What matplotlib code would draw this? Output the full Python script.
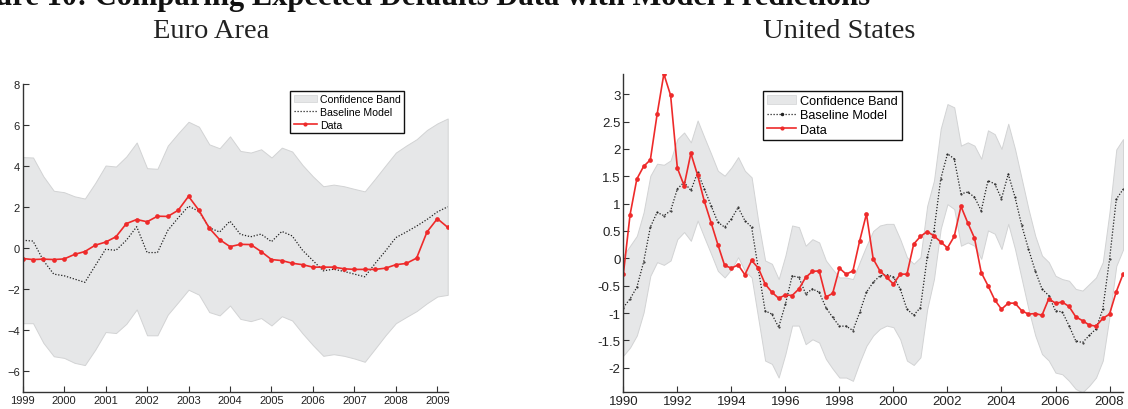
import numpy as np
import matplotlib
matplotlib.use("Agg")
import matplotlib.pyplot as plt
from matplotlib.patches import Patch
from matplotlib.lines import Line2D

plt.rcParams['font.family'] = ['Liberation Sans', 'DejaVu Sans']

# quarterly dates
euro_t = np.arange(1999.0, 2009.26, 0.25)
us_t = np.arange(1990.0, 2008.51, 0.25)

# Euro area
euro_data = [-0.50, -0.55, -0.53, -0.55, -0.52, -0.30, -0.16, 0.15,
             0.30, 0.56, 1.20, 1.40, 1.29, 1.56, 1.55, 1.85,
             2.53, 1.85, 0.98, 0.42, 0.08, 0.19, 0.18, -0.16,
             -0.55, -0.60, -0.73, -0.80, -0.92, -0.92, -0.92, -1.00,
             -1.03, -1.03, -1.03, -0.97, -0.80, -0.74, -0.48, 0.79,
             1.44, 1.02]
euro_model = [0.39, 0.35, -0.60, -1.26, -1.34, -1.50, -1.66, -0.85,
              -0.05, -0.10, 0.39, 1.05, -0.21, -0.21, 0.87, 1.48,
              2.05, 1.80, 1.00, 0.79, 1.32, 0.68, 0.56, 0.69,
              0.32, 0.82, 0.60, -0.10, -0.60, -1.10, -1.02, -1.13,
              -1.26, -1.39, -0.74, -0.13, 0.52, 0.79, 1.08, 1.40,
              1.77, 2.02]
euro_upper = [4.44, 4.42, 3.50, 2.80, 2.73, 2.53, 2.42, 3.18,
              4.03, 3.98, 4.47, 5.15, 3.90, 3.87, 5.00, 5.60,
              6.16, 5.92, 5.06, 4.87, 5.45, 4.74, 4.66, 4.82,
              4.42, 4.90, 4.71, 4.05, 3.50, 3.02, 3.10, 3.02,
              2.89, 2.77, 3.39, 4.03, 4.66, 5.00, 5.31, 5.76,
              6.08, 6.32]
euro_lower = [-3.65, -3.65, -4.61, -5.26, -5.34, -5.58, -5.69, -4.94,
              -4.08, -4.13, -3.68, -2.98, -4.24, -4.24, -3.23, -2.63,
              -2.02, -2.26, -3.11, -3.27, -2.79, -3.44, -3.55, -3.40,
              -3.76, -3.31, -3.52, -4.15, -4.72, -5.24, -5.16, -5.24,
              -5.37, -5.53, -4.89, -4.24, -3.65, -3.35, -3.06, -2.68,
              -2.35, -2.27]

# United States
us_data = [-0.29, 0.80, 1.45, 1.68, 1.80, 2.63, 3.37, 2.98,
           1.65, 1.33, 1.92, 1.52, 1.04, 0.65, 0.25, -0.13,
           -0.18, -0.12, -0.30, -0.04, -0.18, -0.47, -0.62, -0.73,
           -0.67, -0.68, -0.56, -0.35, -0.24, -0.23, -0.71, -0.64,
           -0.18, -0.29, -0.23, 0.32, 0.81, -0.01, -0.23, -0.35,
           -0.47, -0.29, -0.29, 0.26, 0.40, 0.49, 0.41, 0.30,
           0.19, 0.40, 0.95, 0.65, 0.37, -0.26, -0.50, -0.76,
           -0.93, -0.82, -0.82, -0.96, -1.02, -1.01, -1.04, -0.74,
           -0.82, -0.80, -0.88, -1.07, -1.14, -1.22, -1.24, -1.10,
           -1.02, -0.61, -0.29]
us_model = [-0.90, -0.74, -0.53, -0.07, 0.57, 0.84, 0.78, 0.87,
            1.27, 1.39, 1.24, 1.57, 1.27, 0.96, 0.66, 0.57,
            0.72, 0.93, 0.69, 0.57, -0.20, -0.96, -1.02, -1.26,
            -0.84, -0.32, -0.35, -0.65, -0.56, -0.62, -0.90, -1.08,
            -1.24, -1.24, -1.32, -0.99, -0.62, -0.44, -0.32, -0.30,
            -0.34, -0.56, -0.93, -1.04, -0.90, 0.02, 0.50, 1.45,
            1.91, 1.82, 1.18, 1.21, 1.12, 0.87, 1.42, 1.36,
            1.09, 1.54, 1.12, 0.60, 0.17, -0.23, -0.56, -0.68,
            -0.96, -0.98, -1.23, -1.51, -1.54, -1.41, -1.29, -0.93,
            -0.02, 1.08, 1.26]
us_upper = [0.05, 0.23, 0.41, 0.84, 1.51, 1.73, 1.71, 1.79,
            2.18, 2.30, 2.12, 2.52, 2.21, 1.91, 1.60, 1.51,
            1.66, 1.85, 1.60, 1.48, 0.66, -0.04, -0.10, -0.38,
            0.05, 0.60, 0.57, 0.23, 0.35, 0.29, -0.04, -0.20,
            -0.35, -0.35, -0.38, -0.07, 0.23, 0.50, 0.60, 0.63,
            0.63, 0.35, 0.02, -0.10, 0.02, 0.96, 1.42, 2.37,
            2.82, 2.76, 2.06, 2.12, 2.06, 1.82, 2.34, 2.27,
            2.00, 2.46, 2.00, 1.45, 0.90, 0.41, 0.05, -0.07,
            -0.32, -0.38, -0.41, -0.56, -0.59, -0.47, -0.35, -0.07,
            0.85, 1.99, 2.18]
us_lower = [-1.78, -1.63, -1.41, -0.99, -0.32, -0.07, -0.12, -0.04,
            0.35, 0.48, 0.32, 0.69, 0.38, 0.08, -0.23, -0.35,
            -0.20, 0.02, -0.23, -0.35, -1.11, -1.87, -1.93, -2.18,
            -1.75, -1.23, -1.23, -1.57, -1.48, -1.54, -1.84, -2.02,
            -2.18, -2.18, -2.24, -1.90, -1.60, -1.41, -1.29, -1.23,
            -1.26, -1.48, -1.87, -1.95, -1.81, -0.93, -0.38, 0.54,
            0.99, 0.90, 0.23, 0.29, 0.23, -0.01, 0.51, 0.45,
            0.17, 0.63, 0.17, -0.38, -0.93, -1.41, -1.75, -1.87,
            -2.09, -2.12, -2.24, -2.39, -2.45, -2.33, -2.18, -1.87,
            -1.06, -0.14, 0.16]

BAND = '#e6e7e8'
BAND_EDGE = '#d2d3d4'
RED = '#ee2a2a'
DOT = (0, (1, 1.4))


def draw_panel(ax, t, lower, upper, model, data, fs, model_marker):
    ax.fill_between(t, lower, upper, facecolor=BAND, edgecolor=BAND_EDGE, linewidth=0.7)
    ax.plot(t, model, color='#222222', linestyle=DOT, linewidth=0.9,
            marker=model_marker, markersize=1)
    ax.plot(t, data, color=RED, linewidth=1.2, marker='o', markersize=3.4,
            markeredgewidth=0)
    for s in ['top', 'right']:
        ax.spines[s].set_visible(False)
    for s in ['left', 'bottom']:
        ax.spines[s].set_linewidth(1.0)
        ax.spines[s].set_color('#333333')
    ax.tick_params(direction='in', length=4, width=0.8, labelsize=fs,
                   colors='#333333', labelcolor='#222222', pad=2)
    handles = [Patch(facecolor=BAND, edgecolor=BAND_EDGE, linewidth=0.5),
               Line2D([], [], color='#222222', linestyle=DOT, linewidth=0.9,
                      marker=model_marker, markersize=3),
               Line2D([], [], color=RED, linewidth=1.2, marker='o',
                      markersize=3, markeredgewidth=0)]
    labels = ['Confidence Band', 'Baseline Model', 'Data']
    return handles, labels


fig = plt.figure(figsize=(11.28, 4.10), dpi=100)

ax1 = fig.add_axes([0.0201, 0.0415, 0.3768, 0.7512])
h, l = draw_panel(ax1, euro_t, euro_lower, euro_upper, euro_model, euro_data, 8, None)
ax1.set_xlim(1999, 2009.25)
ax1.set_ylim(-7, 8)
ax1.set_xticks(range(1999, 2010))
ax1.set_yticks([-6, -4, -2, 0, 2, 4, 6, 8])
leg1 = ax1.legend(h, l, loc='upper right', bbox_to_anchor=(0.897, 0.977),
                  borderaxespad=0, fontsize=7.6, fancybox=False, framealpha=1,
                  edgecolor='#111111', handlelength=2.2, handletextpad=0.3,
                  labelspacing=0.25, borderpad=0.3)
leg1.get_frame().set_linewidth(1.0)

ax2 = fig.add_axes([0.5526, 0.0407, 0.4430, 0.7764])
h, l = draw_panel(ax2, us_t, us_lower, us_upper, us_model, us_data, 9.5, '.')
ax2.set_xlim(1990, 2008.5)
ax2.set_ylim(-2.45, 3.37)
ax2.set_xticks(range(1990, 2009, 2))
ax2.set_yticks([-2, -1.5, -1, -0.5, 0, 0.5, 1, 1.5, 2, 2.5, 3])
ax2.set_yticklabels(['-2', '-1.5', '-1', '-0.5', '0', '0.5', '1', '1.5', '2', '2.5', '3'])
leg2 = ax2.legend(h, l, loc='upper left', bbox_to_anchor=(0.28, 0.947),
                  borderaxespad=0, fontsize=9.2, fancybox=False, framealpha=1,
                  edgecolor='#111111', handlelength=2.3, handletextpad=0.3,
                  labelspacing=0.2, borderpad=0.3)
leg2.get_frame().set_linewidth(1.0)

serif = ['Liberation Serif', 'DejaVu Serif']
fig.text(211 / 1128, 1 - 38 / 410, 'Euro Area', ha='center', va='baseline',
         fontsize=20.5, family=serif, color='#222222')
fig.text(839 / 1128, 1 - 38 / 410, 'United States', ha='center', va='baseline',
         fontsize=20.5, family=serif, color='#222222')
# figure caption, cropped at the top edge as in the source page
fig.text(870 / 1128, 1 - 5 / 410,
         'Figure 10: Comparing Expected Defaults Data with Model Predictions',
         ha='right', va='baseline', fontsize=22, fontweight='bold',
         family=serif, color='#111111')

fig.savefig('out.png', dpi=100)
